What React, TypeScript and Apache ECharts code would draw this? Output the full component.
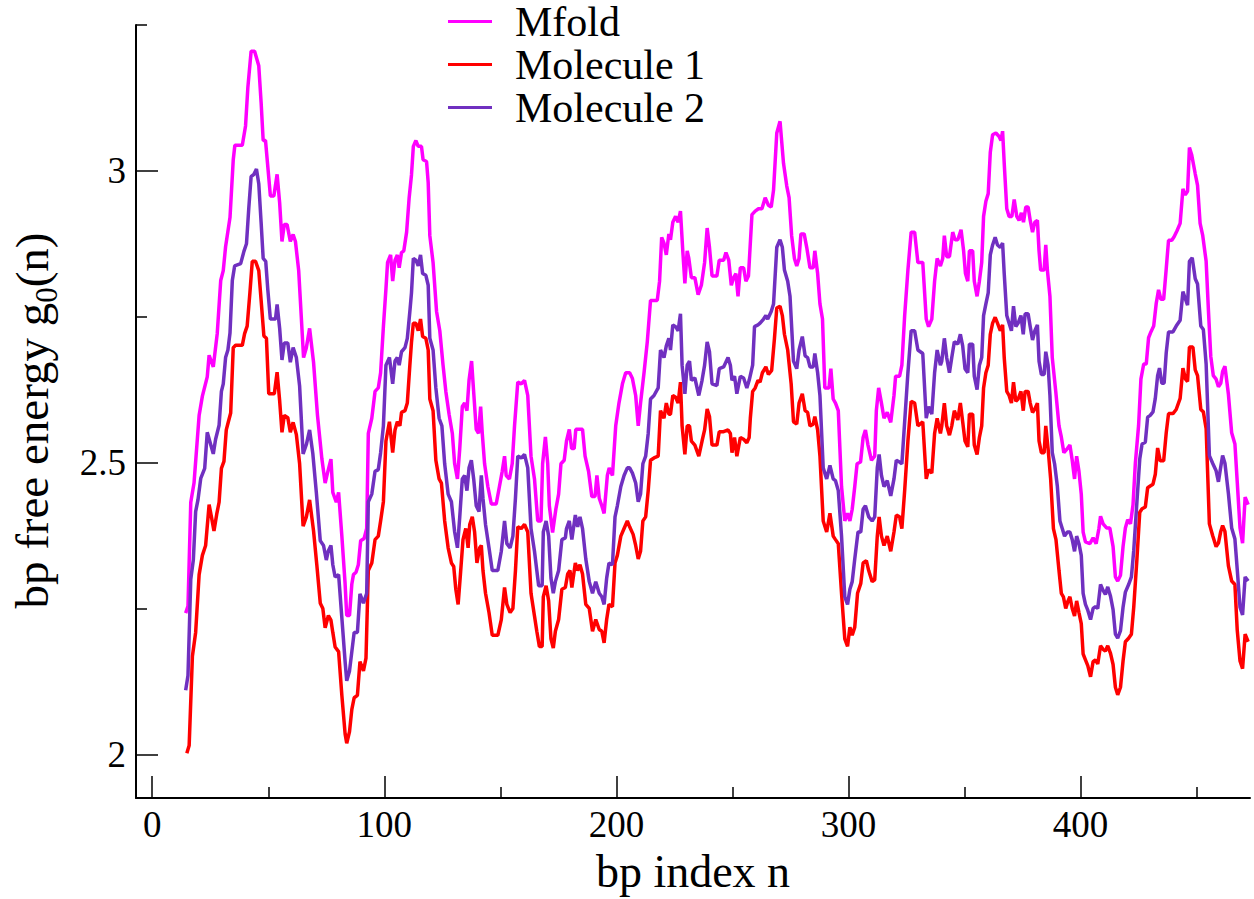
import React, { useEffect, useRef } from "react";
import * as echarts from "echarts";

const xMajorTicks = [0, 100, 200, 300, 400];
const xMinorTicks = [50, 150, 250, 350, 450];
const yMajorTicks = [2, 2.5, 3];
const yMinorTicks = [2.25, 2.75, 3.25];
const seriesNames = ["Mfold", "Molecule 1", "Molecule 2"];
const seriesColors = ["#ff00ff", "#ff0000", "#7030c0"];

// [bp index n, g0(n)]
const mfold: [number, number][] = [
  [14.4,2.242],[15.4,2.254],[16.6,2.432],[18.0,2.465],[20.2,2.581],[21.6,2.614],[23.7,2.647],[24.5,2.684],[26.3,2.664],[28.0,2.721],[29.5,2.812],[30.6,2.829],[31.6,2.870],[33.5,2.920],[34.9,3.019],[35.6,3.044],[38.8,3.044],[40.2,3.077],[41.2,3.143],[42.6,3.205],[44.1,3.205],[45.9,3.180],[46.9,3.118],[47.8,3.052],[48.8,3.052],[50.9,2.957],[52.4,2.957],[53.8,2.994],[54.9,2.945],[55.9,2.879],[56.9,2.908],[58.1,2.908],[59.5,2.879],[60.7,2.891],[61.7,2.879],[63.1,2.829],[65.2,2.680],[66.4,2.697],[67.8,2.730],[69.5,2.672],[71.2,2.581],[73.1,2.506],[74.5,2.465],[75.5,2.482],[77.0,2.506],[77.8,2.449],[79.3,2.432],[80.3,2.449],[81.7,2.374],[83.1,2.292],[83.8,2.238],[85.0,2.238],[86.0,2.292],[86.7,2.308],[87.8,2.312],[88.8,2.325],[89.8,2.366],[91.3,2.370],
  [92.4,2.387],[93.1,2.550],[94.6,2.576],[96.0,2.622],[97.4,2.628],[98.4,2.654],[99.6,2.733],[100.7,2.798],[101.4,2.843],[102.7,2.856],[103.6,2.811],[104.6,2.847],[105.6,2.856],[106.4,2.834],[107.4,2.860],[108.4,2.863],[109.6,2.895],[110.7,2.954],[111.7,2.993],[112.5,3.042],[113.6,3.052],[114.6,3.042],[116.0,3.042],[116.7,3.019],[118.2,3.016],[118.9,2.980],[119.6,2.889],[121.0,2.843],[122.5,2.759],[123.9,2.726],[125.3,2.667],[126.5,2.622],[127.9,2.583],[129.3,2.550],[130.3,2.498],[131.5,2.472],[132.5,2.524],[133.6,2.596],[134.6,2.602],[135.6,2.589],[136.5,2.641],[137.6,2.674],[138.6,2.615],[139.6,2.557],[140.6,2.550],[141.5,2.596],[142.2,2.550],[143.2,2.498],[144.6,2.459],[146.1,2.429],[148.2,2.429],[149.6,2.459],[150.8,2.485],[151.8,2.511],[152.5,2.478],[153.9,2.472],[155.1,2.498],[156.1,2.563],[157.5,2.638],[159.0,2.635],[160.4,2.641],[161.8,2.615],[163.2,2.511],[164.7,2.472],[166.1,2.400],[167.5,2.400],[168.2,2.498],[169.4,2.544],[170.4,2.498],[171.1,2.426],[172.5,2.380],
  [173.9,2.420],[175.1,2.446],[176.1,2.498],[177.5,2.504],[178.5,2.537],[179.7,2.557],[180.7,2.524],[181.8,2.524],[182.5,2.557],[185.4,2.557],[186.5,2.511],[188.0,2.485],[189.4,2.442],[190.8,2.442],[191.6,2.478],[192.6,2.439],[193.7,2.426],[194.7,2.413],[196.1,2.478],[196.9,2.491],[198.3,2.478],[199.7,2.563],[201.1,2.602],[202.6,2.635],[204.0,2.654],[205.7,2.654],[206.9,2.644],[208.3,2.615],[209.4,2.563],[210.4,2.602],[211.9,2.654],[213.3,2.707],[214.7,2.778],[217.6,2.778],[218.6,2.811],[219.5,2.886],[220.5,2.876],[221.5,2.856],[222.6,2.892],[223.3,2.882],[224.3,2.912],[225.5,2.922],[226.6,2.912],[227.6,2.931],[228.6,2.863],[229.5,2.807],[230.5,2.863],[231.2,2.850],[232.3,2.817],[233.8,2.817],[235.2,2.788],[236.6,2.804],[238.0,2.843],[239.1,2.902],[240.1,2.869],[241.2,2.820],[243.3,2.820],[244.3,2.847],[246.2,2.847],[247.2,2.860],[248.4,2.847],[249.5,2.804],[250.5,2.817],[251.5,2.824],[252.4,2.785],[253.4,2.834],[254.8,2.834],[255.8,2.811],[256.9,2.820],
  [258.4,2.925],[259.8,2.931],[261.2,2.935],[262.7,2.935],[264.1,2.954],[265.5,2.941],[266.7,2.938],[267.7,2.967],[269.1,3.065],[270.5,3.085],[272.0,3.013],[273.4,2.974],[274.4,2.954],[275.5,2.889],[276.7,2.850],[277.7,2.837],[278.7,2.850],[279.5,2.892],[280.9,2.892],[282.0,2.869],[283.4,2.834],[284.8,2.834],[285.5,2.863],[286.7,2.824],[287.7,2.772],[288.8,2.746],[289.8,2.628],[291.6,2.628],[292.4,2.661],[293.4,2.609],[294.4,2.602],[295.6,2.589],[297.0,2.459],[298.4,2.400],[299.6,2.413],[300.6,2.400],[301.6,2.420],[302.7,2.459],[303.7,2.498],[305.2,2.501],[306.3,2.543],[307.3,2.556],[308.4,2.530],[309.9,2.504],[311.3,2.511],[312.0,2.589],[313.0,2.628],[314.2,2.602],[315.3,2.576],[316.7,2.586],[318.2,2.569],[319.6,2.615],[320.3,2.648],[322.0,2.648],[323.0,2.667],[324.2,2.752],[325.6,2.830],[327.0,2.895],[328.5,2.895],[329.9,2.843],[332.0,2.843],[333.5,2.746],[334.5,2.733],[335.9,2.746],[337.1,2.811],[338.2,2.850],[339.6,2.837],
  [340.6,2.850],[341.3,2.889],[342.3,2.853],[343.5,2.853],[344.9,2.895],[345.9,2.882],[347.1,2.882],[348.5,2.899],[349.6,2.863],[350.4,2.824],[351.4,2.811],[352.1,2.863],[353.5,2.863],[354.2,2.811],[355.4,2.785],[356.4,2.811],[357.4,2.843],[358.2,2.922],[359.2,2.948],[360.2,2.961],[361.1,3.032],[362.1,3.062],[363.5,3.065],[364.9,3.059],[365.7,3.052],[366.4,3.068],[367.1,3.013],[368.2,2.935],[369.2,2.922],[370.4,2.922],[371.4,2.951],[372.5,2.922],[373.5,2.915],[374.5,2.928],[375.4,2.912],[376.4,2.938],[377.4,2.938],[378.3,2.915],[379.3,2.895],[380.3,2.912],[381.4,2.915],[382.1,2.863],[382.8,2.830],[384.3,2.830],[385.0,2.873],[385.7,2.830],[386.8,2.785],[387.8,2.680],[389.3,2.622],[390.7,2.563],[391.7,2.544],[392.8,2.517],[394.3,2.524],[395.4,2.530],[396.4,2.504],[397.4,2.472],[398.3,2.511],[399.3,2.485],[400.3,2.446],[401.1,2.381],[402.1,2.364],[404.0,2.361],[405.4,2.371],[406.7,2.361],[407.9,2.387],
  [408.6,2.408],[409.7,2.395],[411.2,2.388],[412.6,2.388],[414.0,2.356],[415.0,2.304],[416.0,2.297],[417.2,2.307],[418.3,2.356],[419.3,2.388],[420.3,2.402],[421.5,2.395],[422.6,2.428],[423.6,2.499],[425.0,2.564],[426.0,2.643],[427.2,2.669],[428.3,2.669],[429.3,2.714],[430.3,2.724],[431.5,2.734],[432.6,2.773],[433.6,2.796],[434.6,2.780],[435.8,2.780],[436.9,2.832],[437.9,2.881],[439.3,2.881],[440.3,2.887],[441.5,2.897],[442.9,2.910],[444.1,2.969],[445.1,2.959],[446.1,2.965],[446.9,3.040],[447.9,3.027],[449.4,2.995],[450.4,2.975],[451.5,2.910],[452.6,2.890],[454.1,2.845],[455.1,2.760],[456.1,2.682],[457.2,2.649],[458.4,2.643],[459.4,2.630],[460.4,2.636],[461.2,2.656],[462.2,2.665],[463.7,2.617],[465.1,2.551],[466.5,2.532],[467.5,2.467],[468.7,2.388],[469.8,2.362],[470.9,2.441],[472.2,2.428]
];

const molecule1: [number, number][] = [
  [14.9,2.002],[15.9,2.015],[17.3,2.168],[18.7,2.209],[20.2,2.308],[21.6,2.341],[23.0,2.358],[24.5,2.428],[25.5,2.407],[26.6,2.383],[27.8,2.412],[28.8,2.432],[29.8,2.490],[30.9,2.502],[31.9,2.556],[33.0,2.573],[33.8,2.585],[34.9,2.697],[35.9,2.701],[38.8,2.701],[39.8,2.721],[40.9,2.734],[42.1,2.792],[43.1,2.845],[44.5,2.845],[45.9,2.829],[46.9,2.779],[48.1,2.717],[49.2,2.713],[50.2,2.618],[52.6,2.618],[53.8,2.655],[54.9,2.606],[55.9,2.552],[56.9,2.581],[58.4,2.577],[59.5,2.552],[60.7,2.569],[62.1,2.548],[63.5,2.498],[65.0,2.391],[66.4,2.407],[67.8,2.436],[69.5,2.383],[70.9,2.325],[72.4,2.259],[73.5,2.250],[74.5,2.217],[75.9,2.238],[77.0,2.230],[77.8,2.209],[78.8,2.184],[80.3,2.176],[81.7,2.101],[83.1,2.035],[83.8,2.019],[85.0,2.039],[86.0,2.077],[87.0,2.097],[88.4,2.101],[89.5,2.159],[91.0,2.143],
  [92.1,2.165],[93.1,2.315],[94.6,2.328],[96.0,2.368],[97.4,2.374],[98.4,2.400],[99.6,2.433],[100.7,2.537],[102.2,2.570],[103.6,2.517],[104.6,2.556],[105.6,2.570],[106.7,2.563],[107.4,2.586],[108.9,2.589],[109.9,2.602],[111.0,2.667],[111.7,2.706],[112.5,2.739],[113.6,2.739],[114.6,2.726],[115.6,2.746],[116.5,2.716],[117.9,2.713],[118.9,2.693],[119.6,2.609],[121.0,2.589],[122.2,2.504],[123.6,2.472],[124.6,2.465],[126.0,2.400],[127.5,2.354],[128.9,2.328],[129.9,2.322],[130.8,2.283],[131.8,2.257],[132.8,2.309],[133.9,2.368],[135.1,2.387],[136.1,2.354],[136.8,2.394],[137.9,2.407],[138.9,2.381],[139.9,2.328],[141.1,2.354],[141.8,2.358],[142.5,2.315],[143.6,2.276],[145.1,2.243],[146.5,2.204],[148.9,2.204],[150.4,2.231],[151.8,2.286],[152.8,2.257],[154.2,2.243],[155.4,2.250],[156.5,2.315],[157.5,2.390],[159.0,2.387],[160.4,2.394],[161.8,2.381],[163.2,2.276],[164.7,2.237],[165.7,2.211],[166.8,2.185],[168.0,2.185],[168.5,2.270],[169.7,2.289],[170.8,2.263],[171.8,2.198],[172.8,2.182],
  [173.7,2.211],[175.1,2.231],[176.5,2.283],[178.0,2.286],[179.0,2.309],[180.0,2.315],[180.8,2.286],[182.3,2.328],[183.3,2.315],[184.3,2.325],[185.4,2.309],[186.8,2.257],[188.3,2.250],[189.7,2.211],[191.1,2.231],[192.6,2.214],[193.7,2.211],[194.7,2.191],[195.8,2.231],[196.8,2.257],[198.3,2.253],[199.4,2.328],[200.4,2.341],[201.9,2.374],[203.3,2.387],[204.7,2.400],[205.7,2.390],[207.2,2.377],[208.3,2.358],[209.4,2.335],[210.4,2.348],[211.4,2.400],[212.6,2.407],[213.7,2.452],[214.7,2.504],[216.2,2.508],[218.0,2.511],[219.0,2.589],[220.5,2.576],[221.5,2.602],[222.6,2.583],[223.3,2.583],[224.3,2.615],[225.5,2.612],[226.6,2.602],[227.6,2.638],[228.3,2.563],[229.5,2.514],[230.5,2.563],[231.5,2.563],[232.3,2.537],[233.8,2.530],[235.5,2.511],[236.9,2.537],[238.0,2.556],[239.1,2.592],[240.1,2.579],[241.2,2.530],[243.3,2.530],[244.3,2.553],[246.2,2.553],[248.1,2.556],[249.1,2.550],[249.8,2.517],[250.9,2.543],[251.9,2.511],[253.4,2.543],[254.8,2.540],[256.2,2.534],[257.2,2.543],
  [257.7,2.576],[258.7,2.622],[259.8,2.628],[261.0,2.641],[261.9,2.638],[262.9,2.654],[264.4,2.664],[265.5,2.651],[266.9,2.658],[268.1,2.713],[269.1,2.765],[270.5,2.768],[271.5,2.752],[272.4,2.720],[273.8,2.693],[275.3,2.635],[276.3,2.570],[277.7,2.566],[278.7,2.602],[280.1,2.618],[281.3,2.589],[282.4,2.586],[283.4,2.563],[284.8,2.566],[285.5,2.579],[286.7,2.556],[287.7,2.511],[289.1,2.400],[290.6,2.381],[292.0,2.413],[293.4,2.374],[294.4,2.368],[295.6,2.361],[297.0,2.276],[298.4,2.198],[299.6,2.185],[300.6,2.218],[301.6,2.204],[302.7,2.218],[303.9,2.276],[305.3,2.293],[306.3,2.328],[307.7,2.332],[308.7,2.315],[310.2,2.296],[311.3,2.299],[312.4,2.374],[313.2,2.407],[314.2,2.374],[315.3,2.358],[316.7,2.374],[318.2,2.348],[319.6,2.381],[320.6,2.410],[322.0,2.407],[323.0,2.387],[324.2,2.452],[325.6,2.537],[327.0,2.605],[328.5,2.602],[329.9,2.563],[332.0,2.570],[333.5,2.472],[334.5,2.488],[335.9,2.482],[337.1,2.550],[338.2,2.576],[339.6,2.550],
  [340.2,2.563],[341.3,2.602],[342.3,2.563],[343.5,2.547],[344.5,2.563],[345.6,2.589],[347.1,2.573],[348.2,2.602],[349.2,2.570],[350.2,2.537],[351.4,2.527],[352.1,2.583],[353.5,2.583],[354.2,2.530],[355.4,2.514],[356.4,2.543],[357.4,2.563],[358.2,2.628],[359.2,2.654],[360.2,2.667],[361.1,2.720],[362.1,2.739],[363.2,2.749],[364.2,2.739],[365.4,2.726],[366.4,2.736],[367.1,2.680],[368.2,2.622],[369.2,2.615],[370.2,2.602],[371.1,2.638],[372.1,2.605],[373.1,2.609],[374.3,2.622],[375.3,2.589],[376.1,2.622],[377.4,2.622],[378.3,2.602],[379.3,2.586],[380.3,2.592],[381.4,2.602],[382.1,2.537],[383.1,2.517],[384.3,2.517],[385.0,2.563],[386.0,2.524],[387.1,2.472],[388.3,2.387],[389.4,2.368],[390.7,2.315],[391.7,2.276],[392.6,2.270],[393.6,2.250],[394.6,2.263],[395.4,2.270],[396.4,2.250],[397.4,2.237],[398.3,2.263],[399.3,2.243],[400.3,2.224],[401.1,2.172],[402.1,2.162],[403.1,2.152],[404.3,2.133],[405.4,2.159],[406.4,2.162],[407.4,2.155],
  [408.6,2.186],[409.7,2.180],[410.7,2.177],[411.7,2.186],[412.9,2.173],[414.0,2.154],[415.0,2.115],[416.0,2.102],[417.2,2.115],[418.3,2.160],[419.3,2.193],[420.7,2.199],[421.9,2.206],[422.9,2.252],[424.3,2.336],[425.5,2.415],[426.5,2.421],[427.9,2.424],[428.9,2.457],[430.0,2.460],[431.2,2.463],[432.2,2.480],[433.2,2.525],[434.3,2.503],[435.8,2.503],[436.9,2.551],[437.9,2.584],[439.8,2.584],[441.2,2.591],[442.9,2.610],[444.1,2.662],[445.2,2.643],[446.1,2.639],[446.9,2.698],[448.4,2.698],[449.4,2.659],[450.4,2.649],[451.8,2.591],[452.9,2.587],[454.1,2.558],[455.5,2.395],[456.9,2.375],[458.4,2.356],[459.4,2.362],[460.4,2.382],[461.2,2.392],[462.2,2.382],[463.7,2.323],[465.1,2.297],[466.5,2.291],[467.5,2.213],[468.7,2.160],[469.8,2.147],[470.9,2.206],[472.2,2.193]
];

const molecule2: [number, number][] = [
  [14.4,2.110],[15.4,2.135],[16.6,2.300],[17.7,2.333],[18.7,2.416],[19.7,2.436],[20.9,2.473],[22.6,2.490],[23.7,2.552],[24.9,2.535],[26.3,2.515],[27.3,2.540],[28.8,2.564],[29.8,2.622],[30.6,2.635],[31.6,2.680],[32.6,2.693],[33.5,2.722],[34.5,2.812],[35.5,2.837],[38.1,2.841],[39.5,2.862],[40.6,2.875],[41.6,2.936],[42.6,2.990],[43.8,2.994],[44.9,3.003],[45.9,2.978],[46.9,2.912],[47.8,2.850],[48.9,2.845],[49.8,2.796],[50.9,2.746],[53.1,2.746],[53.8,2.771],[54.9,2.730],[55.9,2.676],[56.9,2.705],[58.4,2.705],[59.5,2.672],[60.7,2.697],[62.1,2.680],[63.5,2.631],[65.0,2.515],[66.4,2.531],[67.8,2.556],[69.2,2.515],[70.7,2.449],[72.4,2.366],[73.8,2.358],[75.0,2.333],[75.9,2.349],[77.0,2.358],[77.8,2.325],[78.8,2.304],[80.3,2.308],[81.7,2.234],[83.1,2.159],[83.8,2.126],[85.0,2.143],[86.0,2.176],[87.0,2.209],[88.4,2.209],[89.5,2.275],[91.0,2.259],
  [92.4,2.276],[93.1,2.433],[94.6,2.446],[96.0,2.485],[97.4,2.488],[98.4,2.517],[99.6,2.563],[100.7,2.667],[102.2,2.680],[103.6,2.635],[104.6,2.674],[105.6,2.680],[106.4,2.667],[107.4,2.690],[108.9,2.697],[109.9,2.713],[111.0,2.759],[111.7,2.791],[112.5,2.850],[113.6,2.847],[114.6,2.837],[115.6,2.856],[116.5,2.824],[117.9,2.821],[118.9,2.804],[119.6,2.713],[121.0,2.693],[122.2,2.628],[123.6,2.576],[124.8,2.563],[126.0,2.498],[127.5,2.446],[128.9,2.433],[130.3,2.381],[131.5,2.354],[132.5,2.407],[133.6,2.472],[134.6,2.478],[135.6,2.452],[136.5,2.491],[137.5,2.504],[138.5,2.472],[139.6,2.426],[140.8,2.416],[141.8,2.478],[142.5,2.439],[143.6,2.394],[145.1,2.354],[146.5,2.315],[148.9,2.315],[150.4,2.348],[151.8,2.400],[152.8,2.361],[154.2,2.354],[155.4,2.374],[156.5,2.439],[157.5,2.511],[159.0,2.508],[160.4,2.514],[161.8,2.491],[163.2,2.387],[164.7,2.348],[165.7,2.315],[166.5,2.289],[168.0,2.289],[168.5,2.381],[169.7,2.400],[170.8,2.374],[171.8,2.302],[172.8,2.276],
  [173.7,2.296],[175.1,2.315],[176.5,2.368],[178.0,2.371],[178.5,2.387],[179.7,2.400],[180.8,2.368],[182.3,2.410],[183.3,2.390],[184.3,2.407],[185.4,2.387],[186.8,2.335],[188.3,2.296],[189.7,2.276],[191.1,2.296],[192.6,2.276],[193.7,2.270],[194.7,2.257],[195.8,2.302],[196.8,2.328],[198.3,2.325],[199.4,2.407],[200.4,2.426],[201.9,2.459],[203.3,2.478],[204.7,2.491],[205.7,2.491],[206.9,2.482],[208.3,2.465],[209.4,2.433],[210.4,2.446],[211.4,2.498],[212.6,2.511],[213.7,2.550],[214.7,2.609],[216.2,2.615],[218.0,2.628],[219.0,2.693],[220.5,2.680],[221.5,2.700],[222.6,2.713],[223.3,2.693],[224.3,2.736],[225.5,2.733],[226.6,2.726],[227.6,2.755],[228.3,2.667],[229.5,2.618],[230.5,2.667],[231.5,2.674],[232.3,2.641],[233.8,2.645],[235.5,2.615],[236.9,2.641],[238.0,2.667],[239.1,2.707],[240.1,2.690],[241.2,2.635],[243.3,2.632],[244.3,2.661],[246.2,2.664],[248.1,2.680],[249.1,2.667],[249.8,2.641],[250.9,2.648],[251.9,2.618],[253.4,2.648],[254.8,2.645],[256.2,2.628],[257.2,2.641],
  [258.7,2.667],[259.5,2.733],[261.0,2.736],[261.9,2.739],[263.4,2.746],[264.4,2.752],[265.2,2.746],[266.7,2.759],[267.7,2.772],[269.1,2.869],[270.5,2.882],[271.5,2.869],[272.4,2.830],[273.8,2.811],[274.8,2.785],[276.3,2.674],[277.7,2.661],[278.7,2.693],[280.1,2.716],[281.3,2.683],[282.4,2.680],[283.4,2.664],[284.8,2.664],[285.5,2.687],[286.7,2.654],[287.7,2.615],[289.1,2.491],[290.6,2.472],[292.0,2.495],[293.4,2.472],[294.4,2.469],[295.6,2.452],[297.0,2.374],[298.4,2.270],[299.6,2.257],[300.6,2.283],[301.6,2.296],[302.7,2.335],[304.1,2.381],[305.3,2.381],[306.3,2.420],[307.3,2.426],[308.7,2.407],[310.2,2.400],[311.3,2.407],[312.4,2.491],[313.2,2.514],[314.2,2.478],[315.3,2.459],[316.7,2.469],[318.2,2.443],[319.6,2.472],[320.6,2.504],[322.0,2.501],[323.0,2.498],[324.2,2.570],[325.6,2.654],[327.0,2.726],[328.5,2.726],[329.9,2.693],[332.0,2.687],[333.5,2.576],[334.5,2.596],[335.9,2.583],[337.1,2.654],[338.2,2.693],[339.6,2.667],
  [340.2,2.674],[341.3,2.713],[342.3,2.680],[343.5,2.654],[344.5,2.680],[345.6,2.707],[347.1,2.703],[348.2,2.720],[349.2,2.700],[350.2,2.661],[351.4,2.654],[352.1,2.703],[353.5,2.703],[354.2,2.648],[355.4,2.625],[356.4,2.667],[357.4,2.680],[358.2,2.752],[359.2,2.772],[360.2,2.791],[361.1,2.856],[362.1,2.873],[363.2,2.886],[364.2,2.873],[365.4,2.869],[366.4,2.876],[367.1,2.824],[368.2,2.752],[369.2,2.739],[370.2,2.726],[371.1,2.768],[372.1,2.733],[373.1,2.739],[374.3,2.752],[375.3,2.720],[376.1,2.755],[377.4,2.755],[378.3,2.733],[379.3,2.710],[380.3,2.726],[381.4,2.736],[382.1,2.674],[383.1,2.651],[384.3,2.651],[385.0,2.690],[386.0,2.667],[386.8,2.615],[387.8,2.517],[388.8,2.498],[390.0,2.459],[391.1,2.400],[392.1,2.387],[393.1,2.374],[394.3,2.381],[395.4,2.381],[396.4,2.368],[397.4,2.348],[398.3,2.374],[399.3,2.361],[400.3,2.341],[401.1,2.276],[402.1,2.257],[403.1,2.247],[404.3,2.231],[405.4,2.250],[406.4,2.253],[407.4,2.250],
  [408.6,2.291],[409.7,2.281],[410.7,2.274],[411.7,2.287],[412.9,2.271],[414.0,2.248],[415.0,2.206],[416.0,2.199],[417.2,2.212],[418.3,2.252],[419.3,2.278],[420.7,2.291],[421.9,2.304],[422.9,2.349],[424.3,2.434],[425.5,2.506],[426.5,2.532],[427.9,2.535],[428.9,2.578],[430.0,2.581],[431.2,2.587],[432.2,2.610],[433.2,2.649],[434.0,2.662],[435.0,2.636],[436.0,2.636],[436.9,2.688],[437.9,2.724],[439.8,2.724],[441.2,2.734],[442.9,2.744],[444.1,2.793],[445.2,2.780],[446.1,2.770],[446.9,2.845],[448.1,2.851],[449.4,2.815],[450.4,2.806],[451.8,2.734],[452.9,2.728],[454.1,2.669],[455.5,2.512],[456.9,2.499],[458.4,2.486],[459.4,2.467],[460.4,2.493],[461.2,2.512],[462.2,2.499],[463.7,2.447],[465.1,2.388],[466.5,2.369],[467.5,2.317],[468.7,2.252],[469.8,2.239],[470.9,2.304],[472.2,2.297]
];

const seriesData = [mfold, molecule1, molecule2];

const FONT = "Liberation Serif";
const X_MIN = -7;
const X_MAX = 473;
const Y_MIN = 1.925;
const Y_MAX = 3.25;

export default function App() {
  const ref = useRef<HTMLDivElement>(null);

  useEffect(() => {
    if (!ref.current) return;
    const chart = echarts.init(ref.current, null, { renderer: "svg" });
    const black = "#000";
    const baseX = {
      type: "value",
      min: X_MIN,
      max: X_MAX,
      position: "bottom",
      splitLine: { show: false },
    };
    const baseY = {
      type: "value",
      min: Y_MIN,
      max: Y_MAX,
      position: "left",
      splitLine: { show: false },
    };
    chart.setOption({
      animation: false,
      backgroundColor: "#fff",
      textStyle: { fontFamily: FONT },
      grid: { left: 132, right: 4, top: 25, bottom: 92, containLabel: false },
      legend: {
        data: seriesNames,
        orient: "vertical",
        left: 448,
        top: 0,
        padding: 0,
        itemGap: 0,
        itemWidth: 44,
        itemHeight: 3,
        icon: "rect",
        selectedMode: false,
        textStyle: {
          fontFamily: FONT,
          fontSize: 42,
          color: black,
          lineHeight: 43,
          padding: [0, 0, 0, 18],
        },
      },
      xAxis: [
        {
          ...baseX,
          name: "bp index n",
          nameLocation: "middle",
          nameGap: 41,
          nameTextStyle: { fontFamily: FONT, fontSize: 46, color: black },
          axisLine: { show: true, onZero: false, lineStyle: { color: black, width: 2 } },
          axisTick: {
            show: true,
            inside: true,
            length: 22,
            customValues: xMajorTicks,
            lineStyle: { color: black, width: 1.5 },
          },
          axisLabel: {
            customValues: xMajorTicks,
            fontFamily: FONT,
            fontSize: 37,
            color: black,
            margin: 8,
          },
        },
        {
          ...baseX,
          axisLine: { show: false, onZero: false },
          axisTick: {
            show: true,
            inside: true,
            length: 11,
            customValues: xMinorTicks,
            lineStyle: { color: black, width: 1.5 },
          },
          axisLabel: { show: false },
        },
      ],
      yAxis: [
        {
          ...baseY,
          name: "{m|bp free energy g}{sub|0}{m|(n)}",
          nameLocation: "middle",
          nameGap: 74,
          nameTextStyle: {
            fontFamily: FONT,
            fontSize: 47,
            color: black,
            padding: [0, 18, 0, 0],
            rich: {
              m: { fontFamily: FONT, fontSize: 47, color: black, verticalAlign: "top" },
              sub: { fontFamily: FONT, fontSize: 31, color: black, lineHeight: 54, verticalAlign: "bottom" },
            },
          },
          axisLine: { show: true, onZero: false, lineStyle: { color: black, width: 2 } },
          axisTick: {
            show: true,
            inside: true,
            length: 22,
            customValues: yMajorTicks,
            lineStyle: { color: black, width: 1.5 },
          },
          axisLabel: {
            customValues: yMajorTicks,
            fontFamily: FONT,
            fontSize: 37,
            color: black,
            margin: 10,
          },
        },
        {
          ...baseY,
          axisLine: { show: false, onZero: false },
          axisTick: {
            show: true,
            inside: true,
            length: 11,
            customValues: yMinorTicks,
            lineStyle: { color: black, width: 1.5 },
          },
          axisLabel: { show: false },
        },
      ],
      series: seriesNames.map((name, i) => ({
        name,
        type: "line",
        xAxisIndex: 0,
        yAxisIndex: 0,
        data: seriesData[i],
        showSymbol: false,
        symbol: "none",
        color: seriesColors[i],
        lineStyle: { color: seriesColors[i], width: 3.5 },
        clip: true,
      })),
    });
    return () => chart.dispose();
  }, []);

  return (
    <div
      ref={ref}
      style={{ position: "fixed", left: 0, top: 0, width: 1254, height: 899, background: "#fff" }}
    />
  );
}
